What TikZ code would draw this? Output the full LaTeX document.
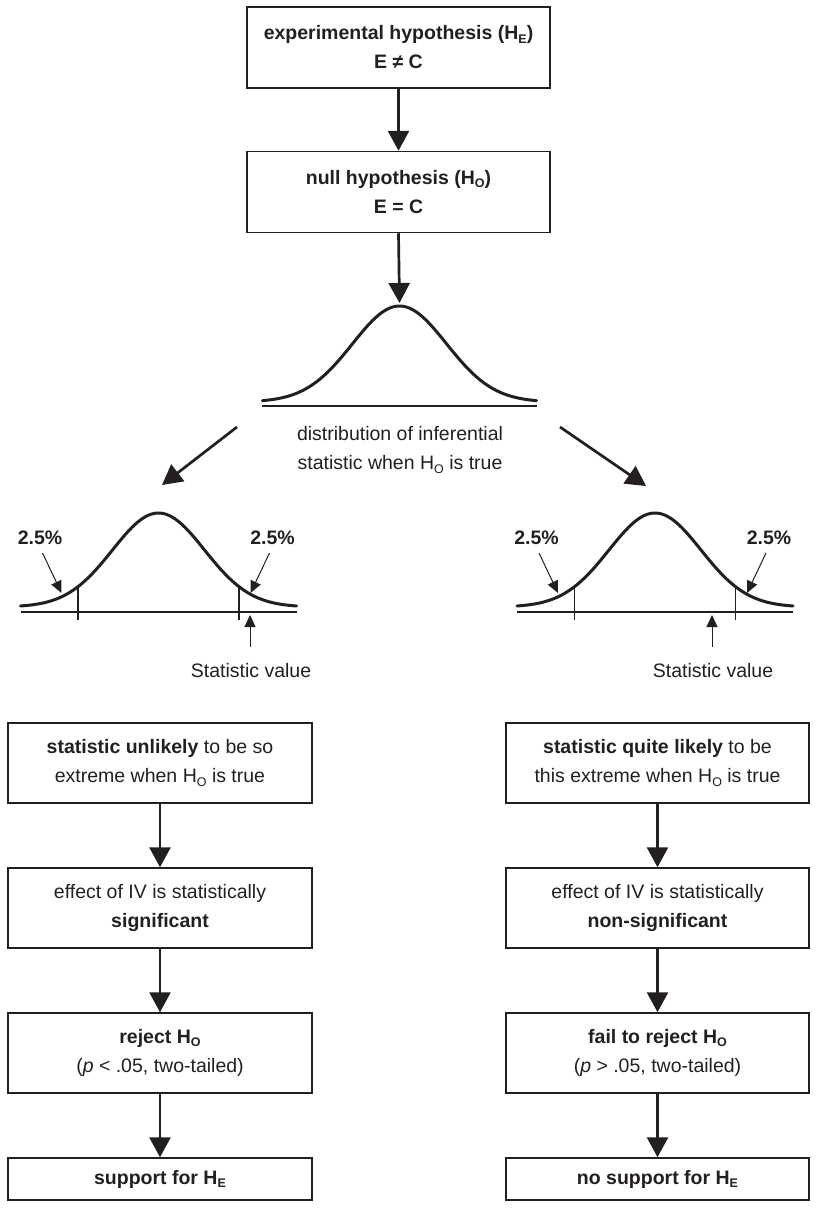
\documentclass[tikz,border=0pt]{standalone}
\usepackage{fontspec}
\setmainfont{Liberation Sans}
\usetikzlibrary{arrows.meta}
\definecolor{ink}{RGB}{35,31,32}
% H with a lowered subscript letter
\newcommand{\Hs}[1]{H\raisebox{-0.32ex}{\fontsize{12.5}{12.5}\selectfont #1}}
\begin{document}
\begin{tikzpicture}[x=1pt,y=-1pt,
  every node/.style={text=ink, font=\fontsize{19.5}{29}\selectfont},
  box/.style={draw=ink, line width=1.5pt, align=center, inner sep=0pt},
  upbox/.style={box, minimum width=303pt, minimum height=81pt},
  lowbox/.style={box, minimum width=304pt, minimum height=80pt},
  bigarrow/.style={draw=ink, line width=2.7pt, -{Triangle[length=20pt,width=21pt]}},
  thinarrow/.style={draw=ink, line width=1pt, -{Triangle[length=12pt,width=11pt]}},
  curve/.style={draw=ink, line width=3pt, line cap=round},
  axis/.style={draw=ink, line width=1.5pt},
  tick/.style={draw=ink, line width=1.2pt},
  pct/.style={font=\fontsize{19.5}{22}\selectfont\bfseries, anchor=base},
  statlabel/.style={font=\fontsize{19.5}{22}\selectfont, anchor=base},
]
\useasboundingbox (0,0) rectangle (815,1210);

% top hypotheses
\node[upbox] (he) at (398.5,47.5) {\textbf{experimental hypothesis (\Hs{E})}\\\textbf{E ≠ C}};
\node[upbox] (ho) at (398.5,192) {\textbf{null hypothesis (\Hs{O})}\\\textbf{E = C}};
\draw[bigarrow] (he.south) -- (ho.north);

% sampling distribution under H0
\coordinate (peak) at (399.5,303);
\draw[bigarrow] (ho.south) -- (peak);
\draw[curve] plot[domain=-137:137, samples=90, smooth] ({399.5+\x},{402-96*exp(-0.5*(\x/47)^2)});
\draw[axis] (262,406) -- (537,406);
\node[align=center] (dist) at (400,450) {distribution of inferential\\statistic when \Hs{O} is true};

% branches to the two outcomes
\coordinate (dl0) at (237,427);
\coordinate (dl1) at (162,485);
\coordinate (dr0) at (560,427);
\coordinate (dr1) at (646,486);
\draw[bigarrow] (dl0) -- (dl1);
\draw[bigarrow] (dr0) -- (dr1);

% two-tailed distributions with critical regions
\foreach \c/\s/\nm in {158.5/91.5/L, 655/57/R}{
  \draw[curve] plot[domain=-138:138, samples=90, smooth] ({\c+\x},{607-94*exp(-0.5*(\x/46)^2)});
  \draw[axis] ({\c-138},612) -- ({\c+138},612);
  \draw[tick] ({\c-80.5},585) -- ({\c-80.5},620);
  \draw[tick] ({\c+80.5},585) -- ({\c+80.5},620);
  \node[pct] (pl\nm) at ({\c-118.5},544) {2.5\%};
  \node[pct] (pr\nm) at ({\c+114},544) {2.5\%};
  \coordinate (tl\nm) at ({\c-97},593);
  \coordinate (tr\nm) at ({\c+92},593);
  \draw[thinarrow] ({\c-116},553) -- (tl\nm);
  \draw[thinarrow] ({\c+111},553) -- (tr\nm);
  \node[statlabel] (sv\nm) at ({\c+\s+1},677) {Statistic value};
  \coordinate (st\nm) at ({\c+\s},615);
  \draw[thinarrow] ({\c+\s},647) -- (st\nm);
}

% left column: significant result
\node[lowbox] (l1) at (160,763) {\textbf{statistic unlikely} to be so\\extreme when \Hs{O} is true};
\node[lowbox] (l2) at (160,908) {effect of IV is statistically\\\textbf{significant}};
\node[lowbox] (l3) at (160,1053) {\textbf{reject \Hs{O}}\\(\textit{p} < .05, two-tailed)};
\node[lowbox, minimum height=42pt] (l4) at (160,1179) {\textbf{support for \Hs{E}}};
\draw[bigarrow] (l1.south) -- (l2.north);
\draw[bigarrow] (l2.south) -- (l3.north);
\draw[bigarrow] (l3.south) -- (l4.north);

% right column: non-significant result
\node[lowbox, minimum width=303pt] (r1) at (657.5,763) {\textbf{statistic quite likely} to be\\this extreme when \Hs{O} is true};
\node[lowbox, minimum width=303pt] (r2) at (657.5,908) {effect of IV is statistically\\\textbf{non-significant}};
\node[lowbox, minimum width=303pt] (r3) at (657.5,1053) {\textbf{fail to reject \Hs{O}}\\(\textit{p} > .05, two-tailed)};
\node[lowbox, minimum width=303pt, minimum height=42pt] (r4) at (657.5,1179) {\textbf{no support for \Hs{E}}};
\draw[bigarrow] (r1.south) -- (r2.north);
\draw[bigarrow] (r2.south) -- (r3.north);
\draw[bigarrow] (r3.south) -- (r4.north);
\end{tikzpicture}
\end{document}
